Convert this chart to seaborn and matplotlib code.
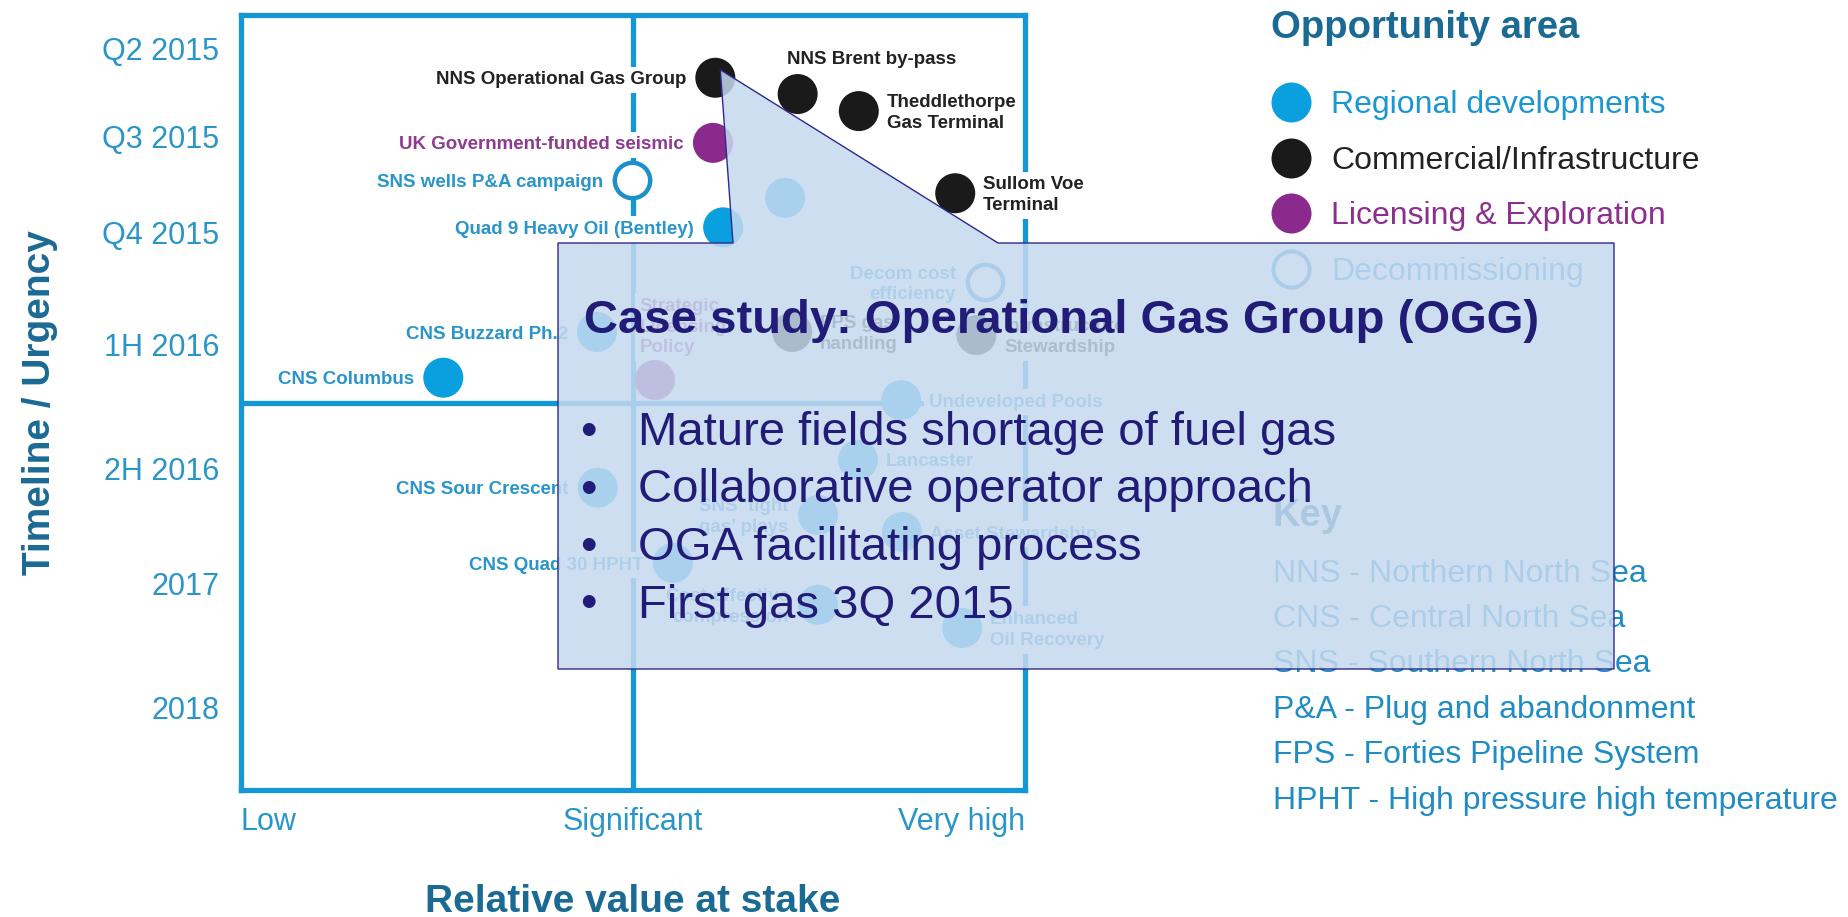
import matplotlib
matplotlib.use('Agg')
import matplotlib.pyplot as plt
from matplotlib.lines import Line2D
from matplotlib.patches import Polygon
import pandas as pd
import seaborn as sns

sns.set_style('white')
plt.rcParams['font.family'] = ['Liberation Sans', 'DejaVu Sans']

#%% DATA
# value: relative value at stake (0 = low, 50 = significant, 100 = very high)
# urgency: timeline position (0 = top of chart, 100 = bottom)
names = ['NNS Operational Gas Group', 'NNS Brent by-pass', 'Theddlethorpe\nGas Terminal',
         'UK Government-funded seismic', 'SNS wells P&A campaign', 'Quad 9 Heavy Oil (Bentley)',
         '', 'Sullom Voe\nTerminal', 'Decom cost\nefficiency', 'CNS Buzzard Ph.2',
         'Strategic\nLicensing\nPolicy', 'FPS gas\nhandling', 'Infrastructure\nStewardship',
         'Undeveloped Pools', 'Lancaster', 'CNS Sour Crescent', 'SNS \u2018tight\ngas\u2019 plays',
         'Asset Stewardship', 'CNS Quad 30 HPHT', 'Cost-effective\ncompression',
         'Enhanced\nOil Recovery', 'CNS Columbus']
value = [60.5, 71.0, 78.8, 60.2, 49.9, 61.5, 69.4, 91.1, 94.9, 45.4, 52.8,
         70.3, 93.8, 84.2, 78.7, 45.5, 73.6, 84.3, 55.1, 73.6, 92.0, 25.8]
urgency = [8.1, 10.2, 12.4, 16.5, 21.3, 27.4, 23.6, 23.0, 34.5, 40.9, 47.1,
           40.9, 41.3, 49.7, 57.4, 61.0, 64.5, 66.7, 70.7, 76.1, 79.1, 46.8]
area = ['Commercial/Infrastructure', 'Commercial/Infrastructure', 'Commercial/Infrastructure',
        'Licensing & Exploration', 'Decommissioning', 'Regional developments',
        'Regional developments', 'Commercial/Infrastructure', 'Decommissioning',
        'Regional developments', 'Licensing & Exploration', 'Commercial/Infrastructure',
        'Commercial/Infrastructure', 'Regional developments', 'Regional developments',
        'Regional developments', 'Regional developments', 'Regional developments',
        'Regional developments', 'Regional developments', 'Regional developments',
        'Regional developments']

areas = ['Regional developments', 'Commercial/Infrastructure',
         'Licensing & Exploration', 'Decommissioning']
timeline_labels = ['Q2 2015', 'Q3 2015', 'Q4 2015', '1H 2016', '2H 2016', '2017', '2018']
timeline_pos = [4.3, 15.7, 28.1, 42.5, 58.5, 73.4, 89.3]
value_labels = ['Low', 'Significant', 'Very high']
value_pos = [0, 50, 100]

key_lines = ['NNS - Northern North Sea', 'CNS - Central North Sea', 'SNS - Southern North Sea',
             'P&A - Plug and abandonment', 'FPS - Forties Pipeline System',
             'HPHT - High pressure high temperature']

case_title = 'Case study: Operational Gas Group (OGG)'
case_bullets = ['Mature fields shortage of fuel gas', 'Collaborative operator approach',
                'OGA facilitating process', 'First gas 3Q 2015']

#%% STYLE
frame_col = '#1596d5'
tick_col = '#2a95c9'
title_col = '#1b6a94'
navy = '#211c78'
area_col = {'Regional developments': '#0a9fdf', 'Commercial/Infrastructure': '#1a1a1a',
            'Licensing & Exploration': '#8b2a8d', 'Decommissioning': '#1e90c8'}
label_col = {'Regional developments': '#2a95c9', 'Commercial/Infrastructure': '#222222',
             'Licensing & Exploration': '#8e3a91', 'Decommissioning': '#2a95c9'}
legend_text_col = {'Regional developments': '#1a96d2', 'Commercial/Infrastructure': '#222222',
                   'Licensing & Exploration': '#8c2f8e', 'Decommissioning': '#1a96d2'}
# label placement: (ha, va, dx, dy) in points
side = {'L': ('right', 'center', -21, -1.5), 'R': ('left', 'center', 20, -1.5)}
special = {'NNS Brent by-pass': ('left', 'bottom', -8, 19),
           'Strategic\nLicensing\nPolicy': ('left', 'bottom', -11, 17)}
right_side = {'Theddlethorpe\nGas Terminal', 'Sullom Voe\nTerminal', 'FPS gas\nhandling',
              'Infrastructure\nStewardship', 'Undeveloped Pools', 'Lancaster',
              'Asset Stewardship', 'Enhanced\nOil Recovery'}

W, H = 1849, 917
df = pd.DataFrame({'name': names, 'value': value, 'urgency': urgency, 'area': area})

fig = plt.figure(figsize=(W / 100, H / 100), dpi=100)
ax = fig.add_axes([241 / W, 1 - 790 / H, 784 / W, 775 / H])
ax.set_xlim(0, 100)
ax.set_ylim(100, 0)

# quadrant lines
ax.axvline(50, color=frame_col, lw=3.8, zorder=1)
ax.axhline(50, color=frame_col, lw=3.8, zorder=1)

filled = df[df['area'] != 'Decommissioning']
sns.scatterplot(data=filled, x='value', y='urgency', hue='area', palette=area_col,
                s=830, linewidth=0, legend=False, ax=ax, zorder=4)
hollow = df[df['area'] == 'Decommissioning']
sns.scatterplot(data=hollow, x='value', y='urgency', s=650, color=area_col['Decommissioning'],
                facecolor='white', edgecolor=area_col['Decommissioning'], linewidth=3.2,
                legend=False, ax=ax, zorder=4)

for _, r in df.iterrows():
    if not r['name']:
        continue
    if r['name'] in special:
        ha, va, dx, dy = special[r['name']]
    else:
        ha, va, dx, dy = side['R' if r['name'] in right_side else 'L']
    ax.annotate(r['name'], (r['value'], r['urgency']), xytext=(dx, dy),
                textcoords='offset points', ha=ha, va=va, multialignment=ha,
                fontsize=13.5, weight='bold', color=label_col[r['area']], linespacing=1.3,
                bbox=dict(boxstyle='square,pad=0.25', fc='white', ec='none'), zorder=3)

for s in ax.spines.values():
    s.set_color(frame_col)
    s.set_linewidth(3.8)

ax.set_yticks(timeline_pos, timeline_labels)
ax.set_xticks(value_pos, value_labels)
ax.tick_params(axis='y', length=0, pad=15.8, labelsize=22, labelcolor=tick_col)
ax.tick_params(axis='x', length=0, pad=12.3, labelsize=22, labelcolor=tick_col)
xt = ax.get_xticklabels()
xt[0].set_ha('left')
xt[2].set_ha('right')

ax.set_xlabel('Relative value at stake', fontsize=28, weight='bold', color=title_col)
ax.xaxis.set_label_coords(0.5, -0.121)
ax.set_ylabel('Timeline / Urgency', fontsize=28, weight='bold', color=title_col)
ax.yaxis.set_label_coords(-0.233, 0.5)

#%% LEGEND AND KEY
fig.text(1271 / W, 1 - 24 / H, 'Opportunity area', fontsize=27.5, weight='bold',
         color=title_col, va='center_baseline')
handles = []
for a in areas:
    fc = 'white' if a == 'Decommissioning' else area_col[a]
    handles.append(Line2D([0], [0], marker='o', ls='', markersize=26 if fc == 'white' else 28.8,
                          markerfacecolor=fc, markeredgecolor=area_col[a],
                          markeredgewidth=2.9 if fc == 'white' else 0))
leg = fig.legend(handles, areas, loc='center left', bbox_to_anchor=(1271 / W, 1 - 188.5 / H),
                 frameon=False, fontsize=23, handlelength=1.25, handletextpad=0.63,
                 labelspacing=0.80, borderpad=0, borderaxespad=0)
for t, a in zip(leg.get_texts(), areas):
    t.set_color(legend_text_col[a])

fig.text(1273 / W, 1 - 526 / H, 'Key', fontsize=27.5, weight='bold', color=title_col,
         va='baseline')
for i, line in enumerate(key_lines):
    fig.text(1273 / W, 1 - (581.5 + 45.5 * i) / H, line, fontsize=23, color='#1f8cc3',
             va='baseline')

#%% CALLOUT
tip = ax.transData.transform((value[0], urgency[0])) + [5, 8]
tip = fig.transFigure.inverted().transform(tip)
px = lambda x, y: (x / W, 1 - y / H)
verts = [px(558, 669), px(558, 243), px(733, 243), tuple(tip), px(998, 243),
         px(1614, 243), px(1614, 669)]
fig.add_artist(Polygon(verts, closed=True, transform=fig.transFigure, fc='#c6d9ef',
                       alpha=0.85, ec='none', zorder=6))
fig.add_artist(Polygon(verts, closed=True, transform=fig.transFigure, fill=False,
                       ec='#2b2a8c', lw=1.0, zorder=6.5))
fig.text(584 / W, 1 - 333 / H, case_title, fontsize=34, weight='bold', color=navy,
         va='baseline', zorder=7)
for i, b in enumerate(case_bullets):
    y = 1 - (445 + 57.5 * i) / H
    fig.text(580 / W, y, '\u2022', fontsize=34, color=navy, va='baseline', zorder=7)
    fig.text(638 / W, y, b, fontsize=34, color=navy, va='baseline', zorder=7)

fig.savefig('out.png', dpi=100, facecolor='white')
